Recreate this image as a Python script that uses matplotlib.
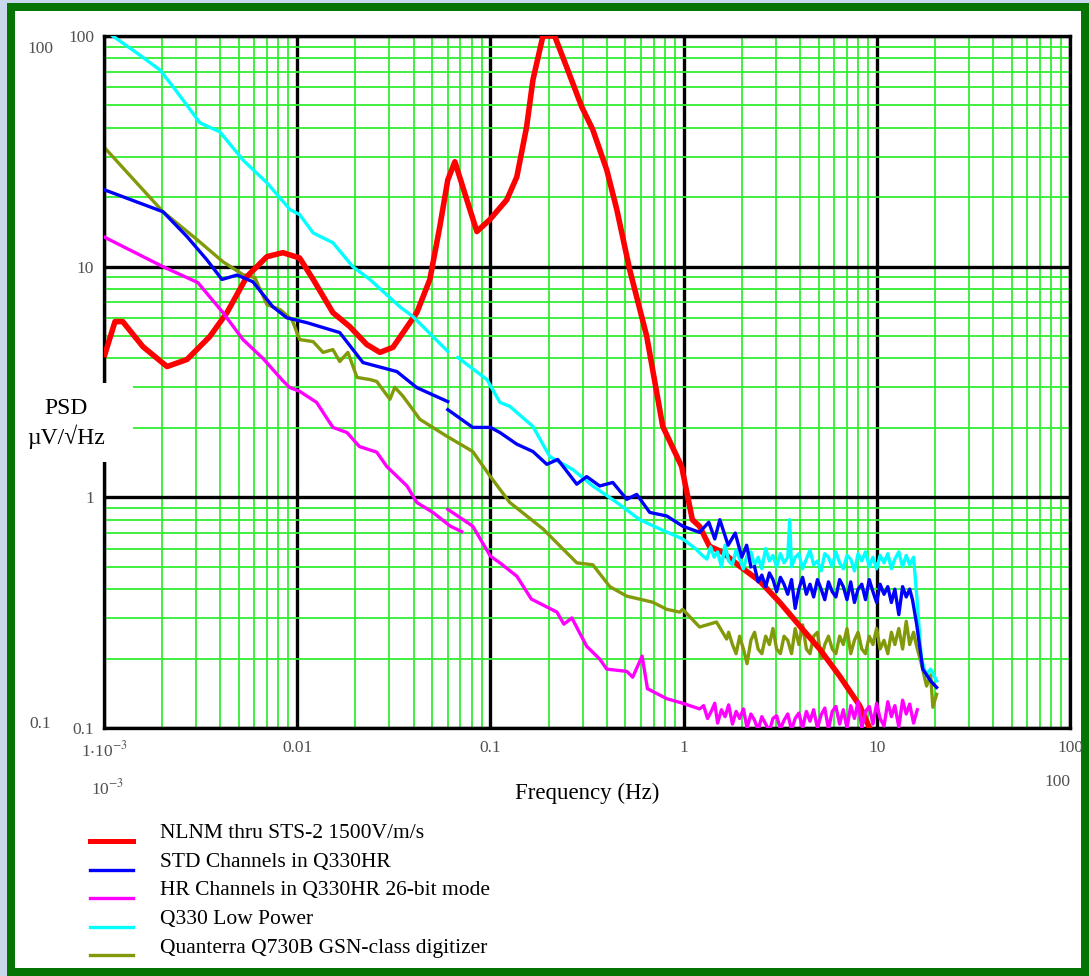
import numpy as np
import matplotlib.pyplot as plt
from matplotlib.patches import Rectangle
from matplotlib.lines import Line2D

plt.rcParams['font.family'] = ['Liberation Serif', 'DejaVu Serif']
plt.rcParams['mathtext.fontset'] = 'stix'

# NLNM thru STS-2 (smooth red curve)
nlnm_f = [1.01e-3, 1.14e-3, 1.25e-3, 1.59e-3, 2.12e-3, 2.69e-3, 3.53e-3, 4.33e-3, 5.49e-3,
          6.97e-3, 8.43e-3, 1.03e-2, 1.21e-2, 1.53e-2, 1.87e-2, 2.29e-2, 2.68e-2, 3.13e-2,
          4.16e-2, 4.86e-2, 5.47e-2, 6.02e-2, 6.55e-2, 7.55e-2, 8.51e-2, 9.93e-2, 0.1216,
          0.137, 0.154, 0.166, 0.187, 0.215, 0.248, 0.297, 0.339, 0.400, 0.451, 0.526,
          0.644, 0.780, 0.977, 1.11, 1.21, 1.36, 1.59, 1.95, 2.48, 3.14, 3.99, 5.06,
          6.42, 8.15, 9.18]
nlnm_v = [4.16, 5.78, 5.78, 4.5, 3.69, 3.96, 4.98, 6.32, 9.06,
          11.05, 11.5, 10.9, 8.8, 6.32, 5.5, 4.6, 4.25, 4.47,
          6.32, 8.8, 14.9, 23.8, 28.5, 19.5, 14.2, 16.0, 19.5,
          24.5, 40.4, 64.5, 100, 100, 73.4, 49.3, 39.2, 26.3, 17.7, 9.7,
          5.0, 2.03, 1.36, 0.80, 0.748, 0.614, 0.578, 0.503, 0.433, 0.351, 0.277, 0.220,
          0.168, 0.125, 0.1]

# STD channels in Q330HR
std_f1 = [1.01e-3, 2.02e-3, 2.69e-3, 3.41e-3, 4.08e-3, 4.88e-3, 5.9e-3, 7.48e-3, 8.85e-3,
          1.12e-2, 1.66e-2, 2.19e-2, 3.28e-2, 4.16e-2, 6.02e-2]
std_v1 = [21.5, 17.3, 13.5, 10.7, 8.8, 9.2, 8.6, 6.7, 6.0,
          5.72, 5.18, 3.84, 3.51, 2.99, 2.6]
std_f2 = [6.02e-2, 8.1e-2, 0.1, 0.112, 0.137, 0.166, 0.196, 0.223, 0.280, 0.315, 0.368,
          0.430, 0.508, 0.572, 0.668, 0.818, 0.989, 1.21, 1.35, 1.45, 1.54, 1.7, 1.85,
          2.0, 2.12, 2.23]
std_v2 = [2.40, 2.01, 2.01, 1.91, 1.70, 1.58, 1.39, 1.46, 1.14, 1.23, 1.12,
          1.16, 0.98, 1.03, 0.86, 0.83, 0.75, 0.705, 0.78, 0.66, 0.80, 0.62, 0.70,
          0.55, 0.62, 0.50]
std_f3 = [2.33, 2.43, 2.54, 2.66, 2.78, 2.9, 3.03, 3.17, 3.31, 3.46,
          3.62, 3.78, 3.95, 4.13, 4.32, 4.51, 4.71, 4.93, 5.15, 5.38,
          5.62, 5.88, 6.14, 6.42, 6.71, 7.01, 7.33, 7.66, 8.0, 8.36,
          8.74, 9.14, 9.55, 9.98, 10.4, 10.9, 11.4, 11.9, 12.4, 13.0,
          13.6, 14.2, 14.8, 15.3, 16.1, 17.3, 19.0, 20.4]
std_v3 = [0.50, 0.43, 0.46, 0.41, 0.47, 0.44, 0.39, 0.45, 0.42, 0.38,
          0.44, 0.33, 0.40, 0.45, 0.38, 0.42, 0.37, 0.44, 0.40, 0.36,
          0.43, 0.39, 0.37, 0.44, 0.41, 0.36, 0.43, 0.35, 0.40, 0.42,
          0.36, 0.44, 0.39, 0.35, 0.42, 0.38, 0.41, 0.35, 0.40, 0.31,
          0.41, 0.37, 0.40, 0.36, 0.28, 0.18, 0.16, 0.15]

# HR channels in Q330HR 26-bit mode
hr_f1 = [1.01e-3, 2.02e-3, 3.06e-3, 4.13e-3, 5.24e-3, 6.65e-3, 8.43e-3, 9.17e-3, 1.03e-2,
         1.26e-2, 1.53e-2, 1.81e-2, 2.1e-2, 2.58e-2, 2.91e-2, 3.7e-2, 4.16e-2, 5.04e-2,
         6.2e-2, 7.1e-2]
hr_v1 = [13.4, 10.0, 8.53, 6.32, 4.83, 4.0, 3.2, 2.99, 2.88,
         2.58, 2.01, 1.91, 1.66, 1.57, 1.36, 1.12, 0.95, 0.86,
         0.75, 0.71]
hr_f2 = [6.02e-2, 8.1e-2, 0.1, 0.112, 0.137, 0.163, 0.221, 0.240, 0.264, 0.315, 0.368,
         0.400, 0.508, 0.545, 0.61, 0.65, 0.818, 0.989, 1.21,
         1.27, 1.33, 1.39, 1.45, 1.5, 1.57, 1.64, 1.71, 1.79, 1.87,
         1.95, 2.04, 2.13, 2.23, 2.33, 2.43, 2.54, 2.66, 2.78, 2.9,
         3.03, 3.17, 3.31, 3.46, 3.62, 3.78, 3.95, 4.13, 4.32, 4.51,
         4.71, 4.93, 5.15, 5.38, 5.62, 5.88, 6.14, 6.42, 6.71, 7.01,
         7.33, 7.66, 8.0, 8.36, 8.74, 9.14, 9.55, 9.98, 10.4, 10.9,
         11.4, 11.9, 12.4, 13.0, 13.6, 14.2, 14.8, 15.5, 16.2]
hr_v2 = [0.887, 0.75, 0.556, 0.52, 0.455, 0.362, 0.318, 0.282, 0.30, 0.226, 0.199,
         0.180, 0.176, 0.166, 0.205, 0.148, 0.134, 0.128, 0.121,
         0.125, 0.11, 0.118, 0.128, 0.105, 0.12, 0.112, 0.126, 0.104, 0.118,
         0.11, 0.121, 0.1, 0.115, 0.108, 0.098, 0.112, 0.104, 0.097, 0.11,
         0.113, 0.099, 0.108, 0.115, 0.098, 0.11, 0.116, 0.1, 0.118, 0.107,
         0.12, 0.1, 0.114, 0.122, 0.099, 0.118, 0.124, 0.104, 0.12, 0.1,
         0.125, 0.11, 0.13, 0.1, 0.118, 0.124, 0.104, 0.128, 0.11, 0.102,
         0.13, 0.112, 0.125, 0.101, 0.132, 0.115, 0.127, 0.105, 0.12]

# Q330 Low Power
lp_f1 = [1.11e-3, 1.48e-3, 1.95e-3, 2.28e-3, 3.14e-3, 3.98e-3, 5.24e-3, 6.97e-3, 9.17e-3,
         1.03e-2, 1.21e-2, 1.53e-2, 1.94e-2, 2.38e-2, 3.4e-2, 3.97e-2, 6.02e-2]
lp_v1 = [100, 84.4, 71.2, 60.2, 42.0, 38.4, 29.0, 23.1, 17.7,
         16.8, 14.0, 12.7, 10.0, 8.8, 6.7, 6.08, 4.29]
lp_f2 = [6.78e-2, 9.6e-2, 0.112, 0.126, 0.166, 0.203, 0.267, 0.339, 0.451, 0.593, 0.752,
         0.989, 1.15, 1.25,
         1.32, 1.38, 1.44, 1.5, 1.57, 1.64, 1.71, 1.79, 1.87, 1.95,
         2.04, 2.13, 2.23, 2.33, 2.43, 2.54, 2.66, 2.78, 2.9, 3.03,
         3.17, 3.31, 3.46, 3.54, 3.62, 3.78, 3.95, 4.13, 4.32, 4.51,
         4.71, 4.93, 5.15, 5.38, 5.62, 5.88, 6.14, 6.42, 6.71, 7.01,
         7.33, 7.66, 8.0, 8.36, 8.74, 9.14, 9.55, 9.98, 10.4, 10.9,
         11.4, 11.9, 12.4, 13.0, 13.6, 14.2, 14.8, 15.5,
         16.2, 17.0, 18.0, 19.0, 20.4]
lp_v2 = [4.04, 3.24, 2.58, 2.48, 2.03, 1.50, 1.32, 1.12, 0.95, 0.80, 0.73,
         0.66, 0.60, 0.56,
         0.54, 0.61, 0.55, 0.58, 0.50, 0.62, 0.53, 0.51, 0.59, 0.54,
         0.49, 0.56, 0.58, 0.51, 0.55, 0.49, 0.60, 0.53, 0.56, 0.50,
         0.57, 0.52, 0.55, 0.80, 0.50, 0.55, 0.57, 0.49, 0.54, 0.59,
         0.51, 0.53, 0.48, 0.57, 0.55, 0.50, 0.58, 0.52, 0.49, 0.56,
         0.54, 0.48, 0.57, 0.53, 0.58, 0.50, 0.55, 0.49, 0.56, 0.52,
         0.57, 0.49, 0.54, 0.58, 0.50, 0.56, 0.51, 0.55,
         0.35, 0.20, 0.17, 0.18, 0.16]

# Quanterra Q730B
q7_f = [1.01e-3, 2.02e-3, 3.03e-3, 4.13e-3, 5.24e-3, 6.04e-3, 6.97e-3, 8.14e-3, 9.39e-3,
        1.03e-2, 1.21e-2, 1.36e-2, 1.53e-2, 1.66e-2, 1.83e-2, 2.04e-2, 2.38e-2, 2.58e-2,
        3.02e-2, 3.2e-2, 3.52e-2, 3.97e-2, 4.31e-2, 5.95e-2, 7.8e-2, 8.1e-2, 0.1, 0.126,
        0.187, 0.280, 0.339, 0.415, 0.508, 0.692, 0.818, 0.955, 0.989, 1.21, 1.48, 1.67,
        1.71, 1.79, 1.87, 1.95, 2.04, 2.13, 2.23, 2.33, 2.43, 2.54,
        2.66, 2.78, 2.9, 3.03, 3.17, 3.31, 3.46, 3.62, 3.78, 3.95,
        4.13, 4.32, 4.51, 4.71, 4.93, 5.15, 5.38, 5.62, 5.88, 6.14,
        6.42, 6.71, 7.01, 7.33, 7.66, 8.0, 8.36, 8.74, 9.14, 9.55,
        9.98, 10.4, 10.9, 11.4, 11.9, 12.4, 13.0, 13.6, 14.2, 14.8,
        15.5, 16.0, 17.0, 18.1, 19.0, 19.5, 20.4]
q7_v = [32.7, 17.3, 13.1, 10.5, 9.23, 8.96, 6.85, 6.52, 5.9,
        4.83, 4.73, 4.25, 4.37, 3.88, 4.25, 3.31, 3.24, 3.18,
        2.66, 3.0, 2.75, 2.40, 2.18, 1.84, 1.61, 1.58, 1.23, 0.95,
        0.73, 0.52, 0.51, 0.41, 0.373, 0.351, 0.327, 0.318, 0.327, 0.274, 0.288, 0.243,
        0.26, 0.23, 0.21, 0.25, 0.22, 0.19, 0.24, 0.26, 0.22, 0.21,
        0.25, 0.23, 0.27, 0.22, 0.21, 0.25, 0.24, 0.21, 0.27, 0.23,
        0.28, 0.22, 0.21, 0.25, 0.26, 0.20, 0.23, 0.25, 0.22, 0.21,
        0.25, 0.23, 0.27, 0.21, 0.24, 0.26, 0.22, 0.21, 0.25, 0.23,
        0.27, 0.22, 0.24, 0.21, 0.26, 0.23, 0.27, 0.22, 0.29, 0.23,
        0.26, 0.23, 0.19, 0.152, 0.17, 0.123, 0.14]

red = '#ff0000'
blue = '#0000ff'
mag = '#ff00ff'
cyan = '#00ffff'
olive = '#82990a'
gray = '#505050'

W, H = 1089, 976
fig = plt.figure(figsize=(W / 100, H / 100), dpi=100)
fig.patch.set_facecolor('#c8d8ec')

def px(x, y):
    return x / W, 1 - y / H

# green frame and white panel
fig.add_artist(Rectangle(px(7, 976), (W - 7) / W, 973 / H, transform=fig.transFigure,
                         facecolor='#047504', edgecolor='none', zorder=-10))
fig.add_artist(Rectangle(px(15, 968), (1081 - 15) / W, (968 - 11) / H, transform=fig.transFigure,
                         facecolor='white', edgecolor='none', zorder=-9))

x0, y0 = px(104, 728)
x1, y1 = px(1070, 36)
ax = fig.add_axes([x0, y0, x1 - x0, y1 - y0])
ax.set_facecolor('none')
ax.set_xscale('log')
ax.set_yscale('log')
ax.set_xlim(1e-3, 100)
ax.set_ylim(0.1, 100)

# grid
ax.grid(True, which='minor', color='#33ee33', lw=1.3, zorder=0)
ax.grid(True, which='major', color='black', lw=2.4, zorder=0.5)
ax.set_axisbelow(True)
for s in ax.spines.values():
    s.set_linewidth(2.4)
ax.tick_params(which='both', length=0)
ax.tick_params(axis='both', which='minor', labelleft=False, labelbottom=False)

ax.set_xticks([1e-3, 1e-2, 1e-1, 1, 10, 100])
ax.set_xticklabels([r'1$\cdot$10$^{-3}$', '0.01', '0.1', '1', '10', '100'],
                   fontsize=12.5, color=gray)
ax.set_yticks([0.1, 1, 10, 100])
ax.set_yticklabels(['0.1', '1', '10', '100'], fontsize=12.5, color=gray)
ax.tick_params(axis='x', pad=9)
ax.tick_params(axis='y', pad=7)

# curves
lw = 2.4
ax.plot(q7_f, q7_v, color=olive, lw=lw, zorder=2)
ax.plot(nlnm_f, nlnm_v, color=red, lw=4.0, zorder=3)
ax.plot(lp_f1, lp_v1, color=cyan, lw=lw, zorder=4)
ax.plot(lp_f2, lp_v2, color=cyan, lw=lw, zorder=4)
ax.plot(std_f1, std_v1, color=blue, lw=lw, zorder=5)
ax.plot(std_f2, std_v2, color=blue, lw=lw, zorder=5)
ax.plot(std_f3, std_v3, color=blue, lw=lw, zorder=5)
ax.plot(hr_f1, hr_v1, color=mag, lw=lw, zorder=6)
ax.plot(hr_f2, hr_v2, color=mag, lw=lw, zorder=6)

# y label box covering the axis
fig.add_artist(Rectangle(px(15, 462), (133 - 15) / W, (462 - 383) / H,
                         transform=fig.transFigure, facecolor='white',
                         edgecolor='none', zorder=5))
fig.text(*px(66, 408), 'PSD', ha='center', va='center', fontsize=17, zorder=6)
fig.text(*px(66, 437), 'µV/√Hz', ha='center', va='center', fontsize=17, zorder=6)

# extra stray labels
fig.text(*px(40, 49), '100', ha='center', va='center', fontsize=12.5, color=gray)
fig.text(*px(40, 724), '0.1', ha='center', va='center', fontsize=12.5, color=gray)
fig.text(*px(108, 788), r'10$^{-3}$', ha='center', va='center', fontsize=12.5, color=gray)
fig.text(*px(1057, 782), '100', ha='center', va='center', fontsize=12.5, color=gray)
fig.text(*px(587, 793), 'Frequency (Hz)', ha='center', va='center', fontsize=16.5)

# legend
labels = ['NLNM thru STS-2 1500V/m/s', 'STD Channels in Q330HR',
          'HR Channels in Q330HR 26-bit mode', 'Q330 Low Power',
          'Quanterra Q730B GSN-class digitizer']
colors = [red, blue, mag, cyan, olive]
widths = [3.6, 2.4, 2.4, 2.4, 2.4]
for i, (lab, c, w) in enumerate(zip(labels, colors, widths)):
    yl = 841 + i * 28.5
    xa, ya = px(90, yl)
    xb, _ = px(133, yl)
    fig.add_artist(Line2D([xa, xb], [ya, ya], color=c, lw=w, transform=fig.transFigure))
    fig.text(*px(160, yl - 7), lab, ha='left', va='center', fontsize=15.5)

fig.savefig('out.png', dpi=100)
